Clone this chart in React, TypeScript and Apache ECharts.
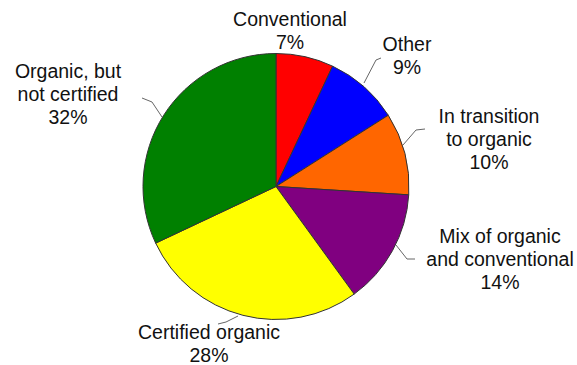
import React, { useEffect, useRef } from "react";
import * as echarts from "echarts";

const categories = [
  "Conventional",
  "Other",
  "In transition\nto organic",
  "Mix of organic\nand conventional",
  "Certified organic",
  "Organic, but\nnot certified",
];
const values = [7, 9, 10, 14, 28, 32];
const colors = ["#ff0000", "#0000ff", "#ff6600", "#800080", "#ffff00", "#008000"];

// label block centers and guide line points (layout only)
const LABEL_POS: [number, number][] = [
  [290, 30],
  [407, 55],
  [489, 139],
  [500, 259],
  [209, 343],
  [68, 94],
];
const LINE_PTS: ([number, number][] | null)[] = [
  null,
  [[364, 83], [376, 60], [381, 58]],
  [[403, 145], [416, 130], [425, 129]],
  [[396, 245], [407, 259], [415, 259]],
  [[238, 316], [226, 322], [218, 324]],
  [[162, 117], [152, 102], [142, 98]],
];

export default function App() {
  const ref = useRef<HTMLDivElement>(null);
  useEffect(() => {
    if (!ref.current) return;
    const chart = echarts.init(ref.current, null, { renderer: "svg" });
    chart.setOption({
      animation: false,
      backgroundColor: "#ffffff",
      series: [
        {
          type: "pie",
          center: [276, 186.5],
          radius: 133,
          startAngle: 90,
          clockwise: true,
          avoidLabelOverlap: false,
          percentPrecision: 0,
          itemStyle: { borderColor: "#333333", borderWidth: 1 },
          label: {
            show: true,
            position: "outside",
            formatter: "{b}\n{d}%",
            fontFamily: "'Liberation Sans', Arial, sans-serif",
            fontSize: 19.5,
            lineHeight: 23,
            color: "#111111",
            align: "center",
          },
          labelLine: {
            show: true,
            lineStyle: { color: "#666666", width: 1 },
          },
          labelLayout: (p: any) => {
            const i = p.dataIndex;
            const pos = LABEL_POS[i];
            const res: any = {
              x: pos[0],
              y: pos[1],
              align: "center",
              verticalAlign: "middle",
            };
            if (LINE_PTS[i]) res.labelLinePoints = LINE_PTS[i];
            return res;
          },
          data: categories.map((name, i) => ({
            name,
            value: values[i],
            itemStyle: { color: colors[i] },
            labelLine: { show: LINE_PTS[i] !== null },
          })),
        },
      ],
    });
    return () => chart.dispose();
  }, []);
  return (
    <div
      ref={ref}
      style={{ position: "fixed", left: 0, top: 0, width: 577, height: 365 }}
    />
  );
}
